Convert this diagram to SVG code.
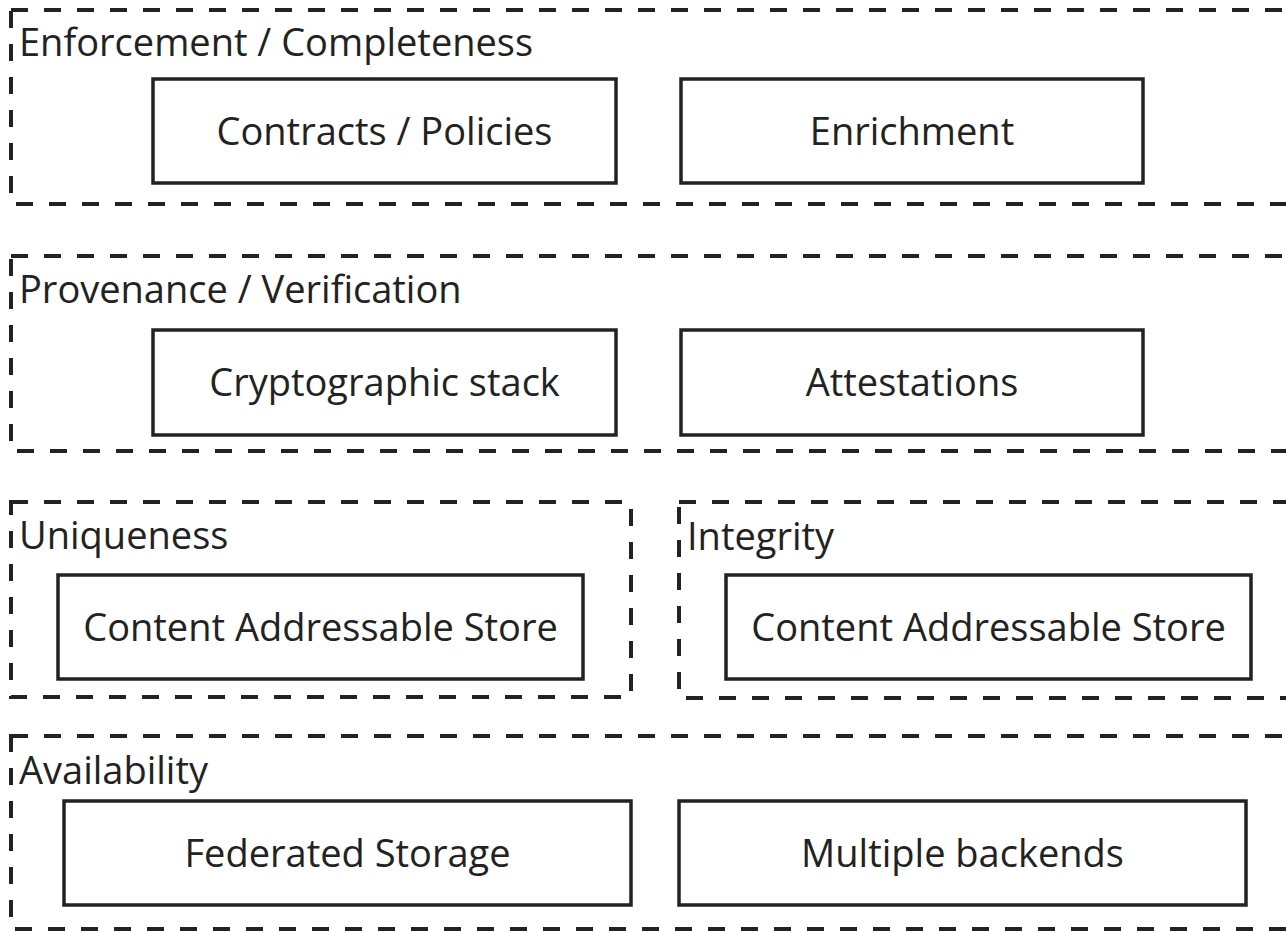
<svg xmlns="http://www.w3.org/2000/svg" width="1286" height="931" viewBox="0 0 1286 931">
  <style>
    .layer { fill: none; stroke: #222; stroke-width: 4; stroke-dasharray: 17 16; }
    .node rect { fill: #fff; stroke: #222; stroke-width: 3.5; }
    text { font-family: "Open Sans", "Noto Sans", sans-serif; fill: #222; }
    .title { font-size: 38px; }
    .label { font-size: 38px; text-anchor: middle; }
  </style>
  <rect width="1286" height="931" fill="#fff"/>

  <!-- layer: enforcement -->
  <g id="layer-enforcement">
    <rect class="layer" x="11" y="10" width="1300" height="194"/>
    <text class="title" x="19" y="56">Enforcement / Completeness</text>
  </g>
  <g id="node-contracts" class="node">
    <rect x="153" y="79" width="463" height="104"/>
    <text class="label" x="384.5" y="145">Contracts / Policies</text>
  </g>
  <g id="node-enrichment" class="node">
    <rect x="681" y="79" width="462" height="104"/>
    <text class="label" x="912" y="145">Enrichment</text>
  </g>

  <!-- layer: provenance -->
  <g id="layer-provenance">
    <rect class="layer" x="11" y="256" width="1300" height="195"/>
    <text class="title" x="19" y="303">Provenance / Verification</text>
  </g>
  <g id="node-crypto" class="node">
    <rect x="153" y="330" width="463" height="105"/>
    <text class="label" x="384.5" y="396">Cryptographic stack</text>
  </g>
  <g id="node-attestations" class="node">
    <rect x="681" y="330" width="462" height="105"/>
    <text class="label" x="912" y="396">Attestations</text>
  </g>

  <!-- layer: uniqueness -->
  <g id="layer-uniqueness">
    <rect class="layer" x="11" y="502" width="620" height="195"/>
    <text class="title" x="19" y="549">Uniqueness</text>
  </g>
  <g id="node-cas-unique" class="node">
    <rect x="58" y="575" width="525" height="104"/>
    <text class="label" x="320.5" y="641">Content Addressable Store</text>
  </g>

  <!-- layer: integrity -->
  <g id="layer-integrity">
    <rect class="layer" x="679" y="502" width="640" height="196"/>
    <text class="title" x="687" y="550">Integrity</text>
  </g>
  <g id="node-cas-integrity" class="node">
    <rect x="726" y="575" width="525" height="104"/>
    <text class="label" x="988.5" y="641">Content Addressable Store</text>
  </g>

  <!-- layer: availability -->
  <g id="layer-availability">
    <rect class="layer" x="11" y="736" width="1300" height="193"/>
    <text class="title" x="19" y="784">Availability</text>
  </g>
  <g id="node-federated" class="node">
    <rect x="64" y="801" width="567" height="104"/>
    <text class="label" x="347.5" y="867">Federated Storage</text>
  </g>
  <g id="node-backends" class="node">
    <rect x="679" y="801" width="567" height="104"/>
    <text class="label" x="962.5" y="867">Multiple backends</text>
  </g>

  <g id="connectors"></g>
</svg>
